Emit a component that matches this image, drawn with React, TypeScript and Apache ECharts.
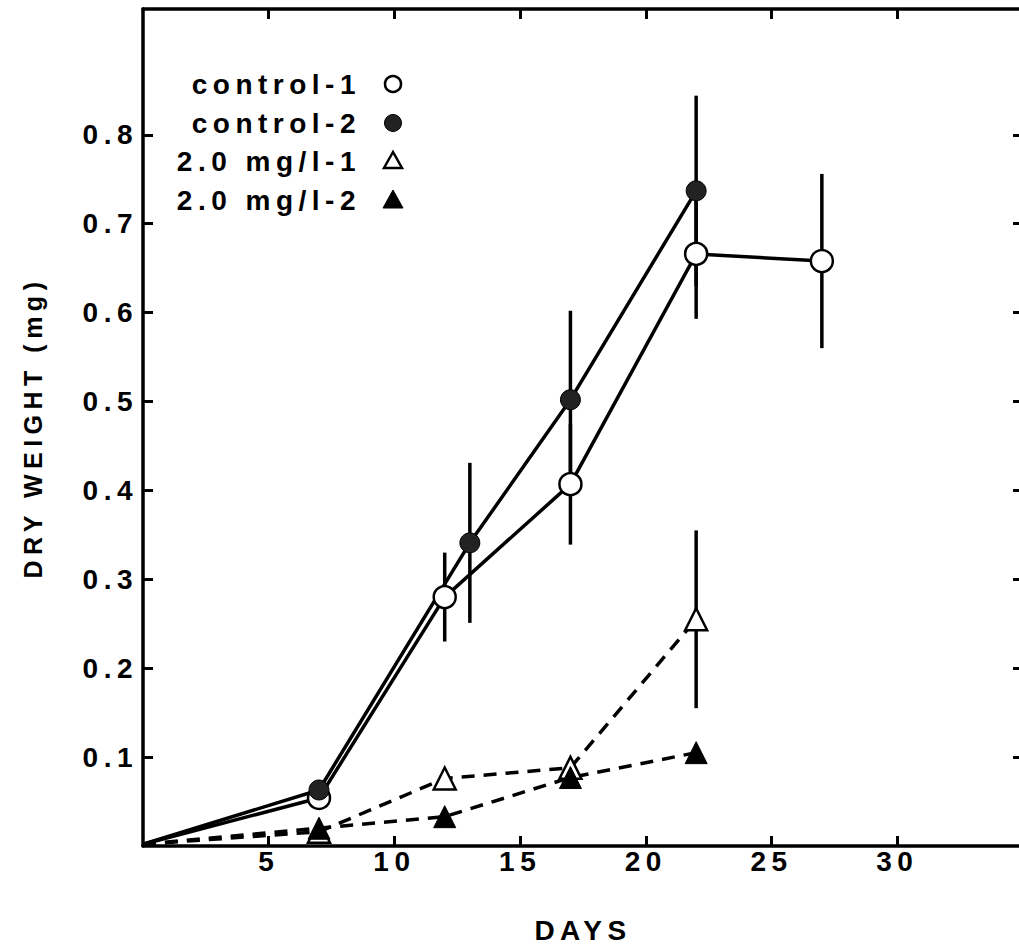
import React, { useEffect, useRef } from "react";
import * as echarts from "echarts";

// ---- data ----
const c1Days = [0, 7, 12, 17, 22, 27];
const c1Vals = [0.002, 0.054, 0.28, 0.407, 0.666, 0.658];
const c1Se = [0, 0, 0.05, 0.068, 0.073, 0.098];

const c2Days = [0, 7, 13, 17, 22];
const c2Vals = [0.002, 0.063, 0.341, 0.502, 0.737];
const c2Se = [0, 0, 0.09, 0.1, 0.107];

const t1Days = [0, 7, 12, 17, 22];
const t1Vals = [0.002, 0.016, 0.076, 0.088, 0.255];
const t1Se = [0, 0, 0, 0, 0.1];

const t2Days = [0, 7, 12, 17, 22];
const t2Vals = [0.002, 0.02, 0.033, 0.077, 0.105];

const xTicks = [5, 10, 15, 20, 25, 30];
const yTicks = [0.1, 0.2, 0.3, 0.4, 0.5, 0.6, 0.7, 0.8];

const legendNames = ["control-1", "control-2", "2.0 mg/l-1", "2.0 mg/l-2"];

const FONT = "'Liberation Sans', Arial, sans-serif";

function pairs(days: number[], vals: number[]) {
  // day 0 is the origin of the curve, drawn without a marker
  return days.map((d, i) =>
    d === 0 ? { value: [d, vals[i]], symbol: "none" } : [d, vals[i]]
  );
}
function errs(days: number[], vals: number[], se: number[]) {
  return days
    .map((d, i) => [d, vals[i] - se[i], vals[i] + se[i]])
    .filter((_, i) => se[i] > 0);
}

export default function App() {
  const ref = useRef<HTMLDivElement>(null);
  useEffect(() => {
    if (!ref.current) return;
    const chart = echarts.init(ref.current, undefined, { renderer: "svg" });
    const axisLine = {
      show: true,
      onZero: false,
      lineStyle: { color: "#000", width: 3.5 },
    };
    const tick = (vals: number[]) => ({
      show: true,
      inside: true,
      length: 10,
      lineStyle: { color: "#000", width: 3 },
      customValues: vals,
    });
    const errData = [
      ...errs(c1Days, c1Vals, c1Se),
      ...errs(c2Days, c2Vals, c2Se),
      ...errs(t1Days, t1Vals, t1Se),
    ];
    const legendY = [84, 123, 161, 200];
    const graphics: any[] = [];
    legendNames.forEach((n, i) => {
      graphics.push({
        type: "text",
        x: 361,
        y: legendY[i],
        style: {
          text: n,
          fill: "#000",
          font: `bold 28px ${FONT}`,
          textAlign: "right",
          textVerticalAlign: "middle",
        },
      });
    });
    const sx = 393;
    graphics.push({
      type: "circle",
      shape: { cx: sx, cy: legendY[0], r: 8 },
      style: { fill: "#fff", stroke: "#000", lineWidth: 2.5 },
    });
    graphics.push({
      type: "circle",
      shape: { cx: sx, cy: legendY[1], r: 8.5 },
      style: { fill: "#222", stroke: "#000", lineWidth: 1 },
    });
    graphics.push({
      type: "polygon",
      shape: {
        points: [
          [sx, legendY[2] - 9],
          [sx - 9, legendY[2] + 7],
          [sx + 9, legendY[2] + 7],
        ],
      },
      style: { fill: "#fff", stroke: "#000", lineWidth: 2.5 },
    });
    graphics.push({
      type: "polygon",
      shape: {
        points: [
          [sx, legendY[3] - 10],
          [sx - 10, legendY[3] + 8],
          [sx + 10, legendY[3] + 8],
        ],
      },
      style: { fill: "#000", stroke: "#000", lineWidth: 1 },
    });

    const lineBase = {
      type: "line",
      z: 3,
      xAxisIndex: 0,
      yAxisIndex: 0,
    };
    const labelStyle = {
      fontSize: 28,
      fontWeight: "bold",
      color: "#000",
      fontFamily: FONT,
    };

    chart.setOption({
      animation: false,
      backgroundColor: "#fff",
      textStyle: { fontFamily: FONT },
      grid: {
        left: 143,
        top: 9,
        width: 880,
        height: 837,
        containLabel: false,
        outerBoundsMode: "none",
      },
      xAxis: [
        {
          type: "value",
          min: 0,
          max: 35,
          position: "bottom",
          name: "DAYS",
          nameLocation: "middle",
          nameGap: 70,
          nameTextStyle: labelStyle,
          axisLine,
          axisTick: tick(xTicks),
          axisLabel: {
            show: true,
            customValues: xTicks,
            margin: 1,
            ...labelStyle,
          },
          splitLine: { show: false },
        },
        {
          type: "value",
          min: 0,
          max: 35,
          position: "top",
          axisLine,
          axisTick: tick(xTicks),
          axisLabel: { show: false },
          splitLine: { show: false },
        },
      ],
      yAxis: [
        {
          type: "value",
          min: 0,
          max: 0.9415,
          position: "left",
          name: "DRY WEIGHT (mg)",
          nameLocation: "middle",
          nameGap: 98,
          nameTextStyle: { ...labelStyle, fontSize: 25 },
          axisLine,
          axisTick: tick(yTicks),
          axisLabel: {
            show: true,
            customValues: yTicks,
            margin: 5,
            ...labelStyle,
            formatter: (v: number) => v.toFixed(1),
          },
          splitLine: { show: false },
        },
        {
          type: "value",
          min: 0,
          max: 0.9415,
          position: "right",
          axisLine,
          axisTick: tick(yTicks),
          axisLabel: { show: false },
          splitLine: { show: false },
        },
      ],
      series: [
        {
          type: "custom",
          name: "error",
          z: 1,
          xAxisIndex: 0,
          yAxisIndex: 0,
          data: errData,
          encode: { x: 0, y: [1, 2] },
          renderItem: (params: any, api: any) => {
            const p1 = api.coord([api.value(0), api.value(1)]);
            const p2 = api.coord([api.value(0), api.value(2)]);
            return {
              type: "line",
              shape: { x1: p1[0], y1: p1[1], x2: p2[0], y2: p2[1] },
              style: { stroke: "#000", lineWidth: 3.5 },
            };
          },
        },
        {
          ...lineBase,
          name: legendNames[2],
          data: pairs(t1Days, t1Vals),
          symbol: "triangle",
          symbolSize: 22,
          showAllSymbol: true,
          lineStyle: { color: "#000", width: 3.5, type: [13, 9] },
          itemStyle: { color: "#fff", borderColor: "#000", borderWidth: 2.5 },
        },
        {
          ...lineBase,
          name: legendNames[3],
          data: pairs(t2Days, t2Vals),
          symbol: "triangle",
          symbolSize: 22,
          showAllSymbol: true,
          lineStyle: { color: "#000", width: 3.5, type: [13, 9] },
          itemStyle: { color: "#000", borderColor: "#000", borderWidth: 1 },
        },
        {
          ...lineBase,
          name: legendNames[0],
          data: pairs(c1Days, c1Vals),
          symbol: "circle",
          symbolSize: 22,
          showAllSymbol: true,
          lineStyle: { color: "#000", width: 3.5 },
          itemStyle: { color: "#fff", borderColor: "#000", borderWidth: 2.5 },
        },
        {
          ...lineBase,
          name: legendNames[1],
          data: pairs(c2Days, c2Vals),
          symbol: "circle",
          symbolSize: 20,
          showAllSymbol: true,
          lineStyle: { color: "#000", width: 3.5 },
          itemStyle: { color: "#222", borderColor: "#000", borderWidth: 1 },
        },
      ],
      graphic: graphics,
    });
    return () => chart.dispose();
  }, []);
  return (
    <div
      ref={ref}
      style={{
        position: "fixed",
        left: 0,
        top: 0,
        width: 1019,
        height: 945,
        letterSpacing: "5.5px",
        background: "#fff",
      }}
    />
  );
}
